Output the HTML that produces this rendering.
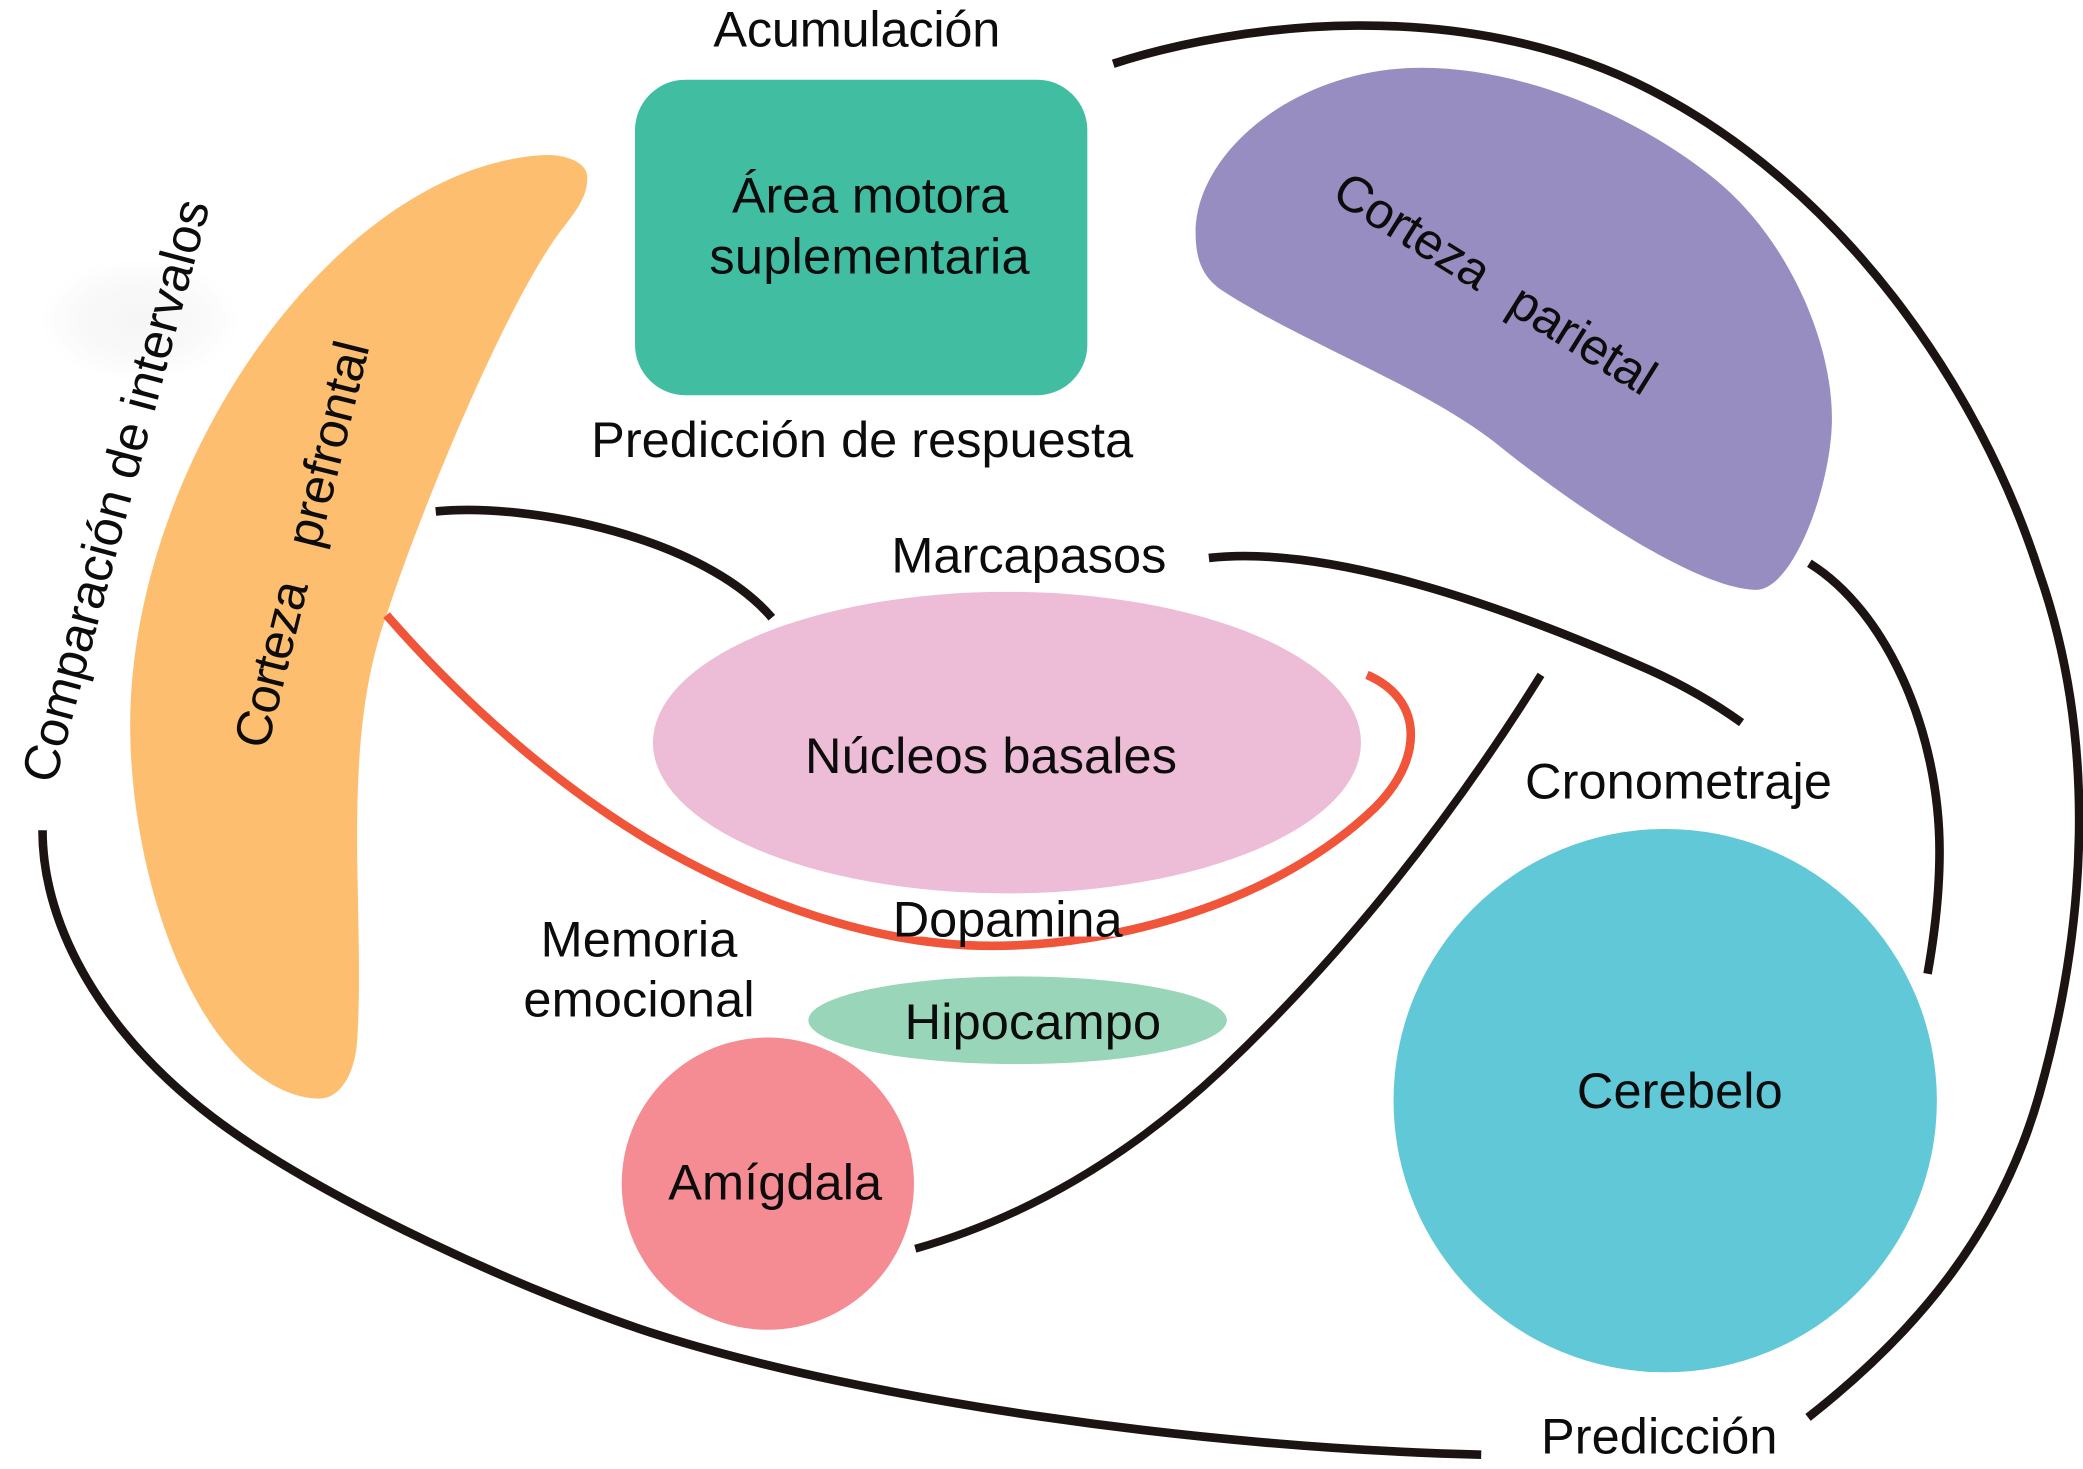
<!DOCTYPE html>
<html><head><meta charset="utf-8"><style>
html,body{margin:0;padding:0;background:#fff}
svg{display:block}
text{font-family:"Liberation Sans",sans-serif;font-size:38px;fill:#0c0c0c}
</style></head><body>
<svg width="2083" height="1469" viewBox="0 0 1568 1105.8" xmlns="http://www.w3.org/2000/svg">
<defs><radialGradient id="smudge"><stop offset="0" stop-color="#f6f6f6"/><stop offset="0.6" stop-color="#f9f9f9"/><stop offset="1" stop-color="#ffffff"/></radialGradient></defs>
<rect x="0" y="0" width="1568" height="1106" fill="#fff"/>
<ellipse cx="105" cy="241" rx="75" ry="46" fill="url(#smudge)"/>
<rect x="478" y="60" width="340.500" height="237.500" rx="38" fill="#41BEA2"/>
<path d="M442 132C441 122 425 115 405 117C250 130 98 350 98 546C98 640 130 750 184 801C205 820 225 827 240 827C258 827 268 805 269 781C275 680 255 560 292 460C320 375 385 220 425 170C436 156 443 145 442 132Z" fill="#FDBE70"/>
<path d="M900 175C900 115 975 51 1070 51C1155 51 1245 95 1297 140C1345 182 1379 255 1379 315C1379 365 1350 444 1322 444C1280 444 1190 385 1129 336C1075 292 980 258 919 218C905 208 900 195 900 175Z" fill="#978DC0"/>
<ellipse cx="758" cy="559" rx="266.500" ry="113.500" fill="#EDBCD6"/>
<ellipse cx="766" cy="768" rx="157.500" ry="33" fill="#99D5B9"/>
<circle cx="578" cy="891" r="110" fill="#F58B93"/>
<circle cx="1253.500" cy="828.500" r="204.500" fill="#60C8D6"/>
<g fill="none" stroke="#1B1413" stroke-width="6.500">
<path d="M838 48C930 18 1100 -5 1241 67C1385 140 1490 290 1535 431C1580 560 1570 700 1535 824C1505 930 1440 1005 1361 1067"/>
<path d="M32 625C32 700 80 780 160 841C240 902 400 975 499 1006C650 1053 900 1090 1115 1095"/>
<path d="M328 385C400 378 530 405 581 465"/>
<path d="M910 420C1000 410 1130 455 1241 504C1270 517 1293 531 1311 544"/>
<path d="M1362 424C1420 460 1460 550 1460 641C1460 675 1456 705 1451 733"/>
<path d="M1160 508C1090 620 1010 720 920 805C840 880 760 920 689 940" stroke-width="6"/>
</g>
<path d="M291 463C345 525 425 600 516 648C590 687 670 712 747 712C840 712 960 680 1035 608C1052 591 1062 572 1062 553C1062 533 1050 517 1029 508" fill="none" stroke="#F0553A" stroke-width="6.500"/>
<rect x="680" y="676" width="160" height="29" fill="#fff"/>
<text x="537" y="35" textLength="216">Acumulación</text>
<text x="551" y="160" textLength="208">Área motora</text>
<text x="534" y="206" textLength="241">suplementaria</text>
<text x="445" y="344" textLength="408">Predicción de respuesta</text>
<text x="671" y="431" textLength="207">Marcapasos</text>
<text x="606" y="582" textLength="280">Núcleos basales</text>
<text x="1148" y="601" textLength="231">Cronometraje</text>
<text x="672" y="705" textLength="173">Dopamina</text>
<text x="407" y="720" textLength="148">Memoria</text>
<text x="394" y="765" textLength="174">emocional</text>
<text x="681" y="782" textLength="193">Hipocampo</text>
<text x="1187" y="834" textLength="155">Cerebelo</text>
<text x="503" y="903" textLength="161">Amígdala</text>
<text x="1160" y="1094" textLength="178">Predicción</text>
<text transform="translate(1001,150) rotate(32)" textLength="131">Corteza</text>
<text transform="translate(1133,234) rotate(32)" textLength="122">parietal</text>
<text transform="translate(201,565) rotate(-76)" textLength="128">Corteza</text>
<text transform="translate(240,414) rotate(-76)" textLength="158">prefrontal</text>
<text transform="translate(41,591) rotate(-75)" textLength="452">Comparación de intervalos</text>
</svg>
</body></html>
